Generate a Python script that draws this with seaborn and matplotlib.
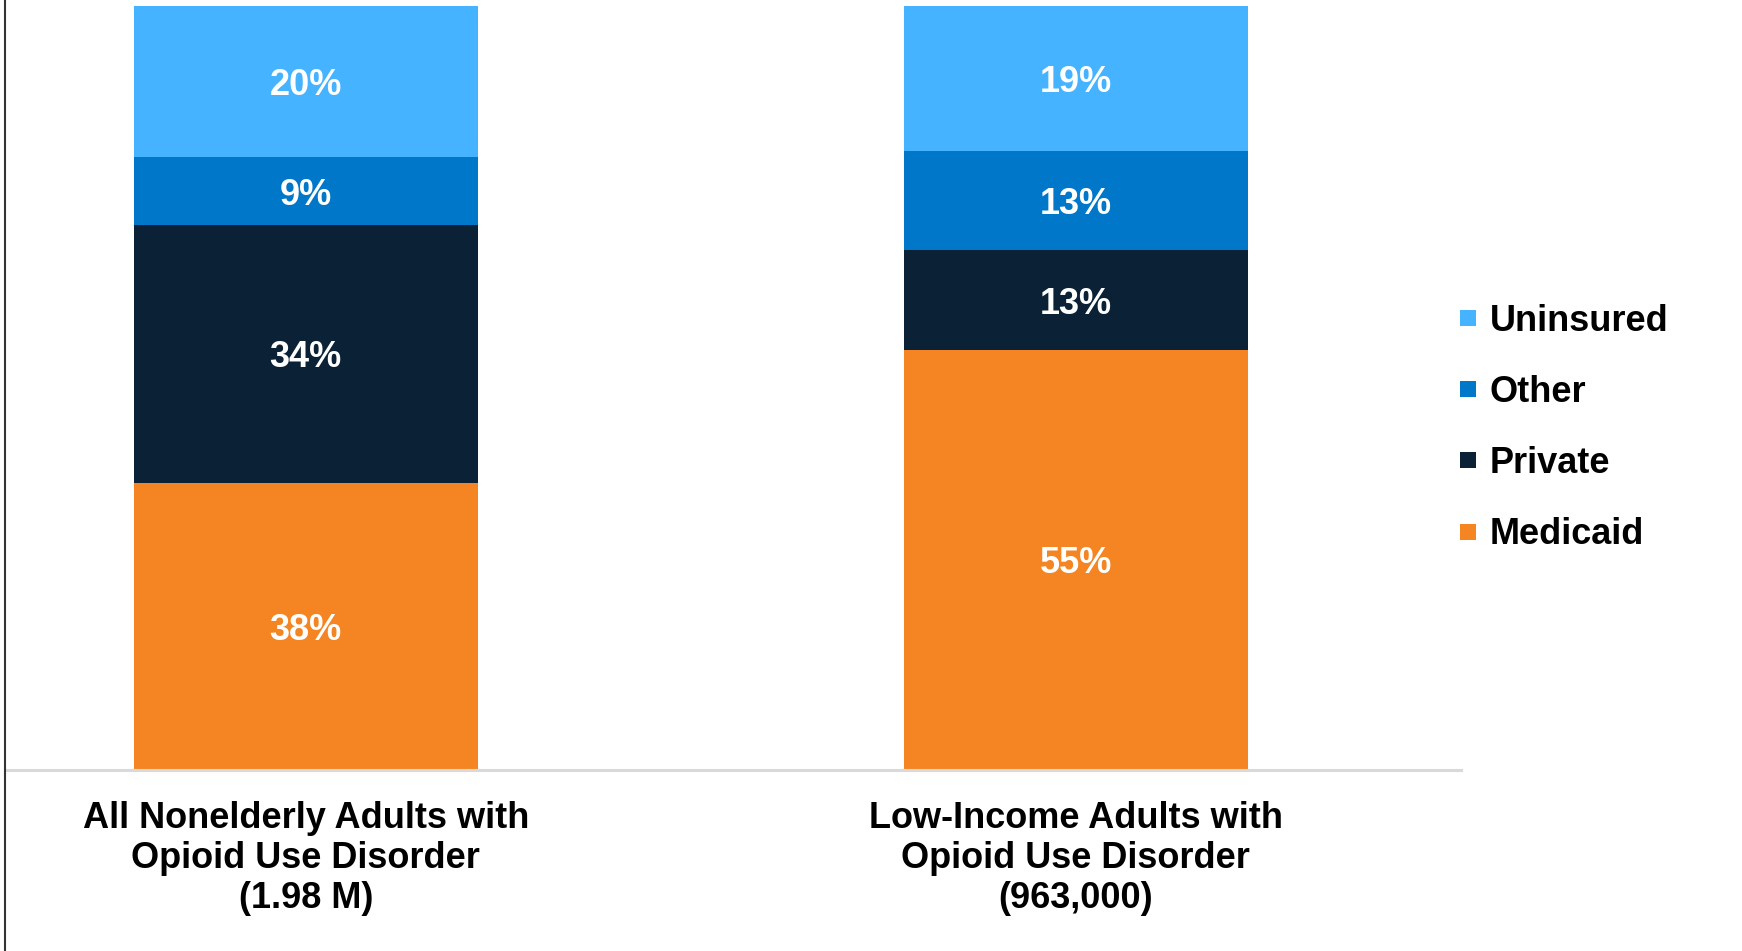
import numpy as np
import pandas as pd
import matplotlib
matplotlib.use("Agg")
import matplotlib.pyplot as plt
from matplotlib.lines import Line2D
import seaborn as sns

categories = ["All Nonelderly Adults with\nOpioid Use Disorder\n(1.98 M)",
              "Low-Income Adults with\nOpioid Use Disorder\n(963,000)"]
series = ["Medicaid", "Private", "Other", "Uninsured"]
medicaid = [38, 55]
private = [34, 13]
other = [9, 13]
uninsured = [20, 19]
colors = {"Medicaid": "#F58522", "Private": "#0A2136", "Other": "#0077C8", "Uninsured": "#45B3FF"}

sns.set_style("white")
plt.rcParams["font.family"] = ["Liberation Sans", "DejaVu Sans"]
plt.rcParams["font.weight"] = "bold"
plt.rcParams["text.color"] = "black"
plt.rcParams["xtick.color"] = "black"

vals = np.array([medicaid, private, other, uninsured], dtype=float)  # series x categories
totals = vals.sum(axis=0)
shares = vals / totals * 100.0
cum = np.cumsum(shares, axis=0)

fig = plt.figure(figsize=(17.42, 9.51), dpi=100)
ax = fig.add_axes([7 / 1742, 1 - 770 / 951, (1461 - 7) / 1742, (770 - 6) / 951])

bar_w = 0.447
# draw cumulative bars from the top series down so they stack
for i in reversed(range(len(series))):
    df = pd.DataFrame({"cat": categories, "top": cum[i]})
    sns.barplot(data=df, x="cat", y="top", order=categories, color=colors[series[i]],
                saturation=1, width=bar_w, linewidth=0, ax=ax)

# labels
for i, s in enumerate(series):
    for j in range(len(categories)):
        bottom = cum[i][j] - shares[i][j]
        yc = bottom + shares[i][j] / 2
        ax.text(j, yc, f"{int(vals[i][j])}%", ha="center", va="center_baseline",
                color="white", fontsize=26, fontweight="bold")

ax.set_xlim(-0.388, 1.5)
ax.set_ylim(0, 100)
ax.set_xlabel("")
ax.set_ylabel("")
ax.set_yticks([])
for sp in ["top", "right", "left"]:
    ax.spines[sp].set_visible(False)
ax.spines["bottom"].set_color("#D9D9D9")
ax.spines["bottom"].set_linewidth(2.2)
ax.tick_params(axis="x", length=0, pad=22, colors="black")
ax.set_xticks(range(len(categories)))
ax.set_xticklabels(categories, fontsize=26, fontweight="bold", linespacing=1.19, color="black")

handles = [Line2D([0], [0], marker="s", linestyle="none", markersize=11.5,
                  markerfacecolor=colors[s], markeredgewidth=0) for s in reversed(series)]
leg = fig.legend(handles, list(reversed(series)), loc="center left",
                 bbox_to_anchor=(1459 / 1742, 1 - 428 / 951), frameon=False,
                 prop={"weight": "bold", "size": 26}, handlelength=0.5,
                 handletextpad=0.35, labelspacing=1.0, borderpad=0, borderaxespad=0,
                 labelcolor="black")

fig.add_artist(Line2D([5 / 1742, 5 / 1742], [0, 1], transform=fig.transFigure,
                      color="#333333", linewidth=1.5))

fig.savefig("out.png", dpi=100)
